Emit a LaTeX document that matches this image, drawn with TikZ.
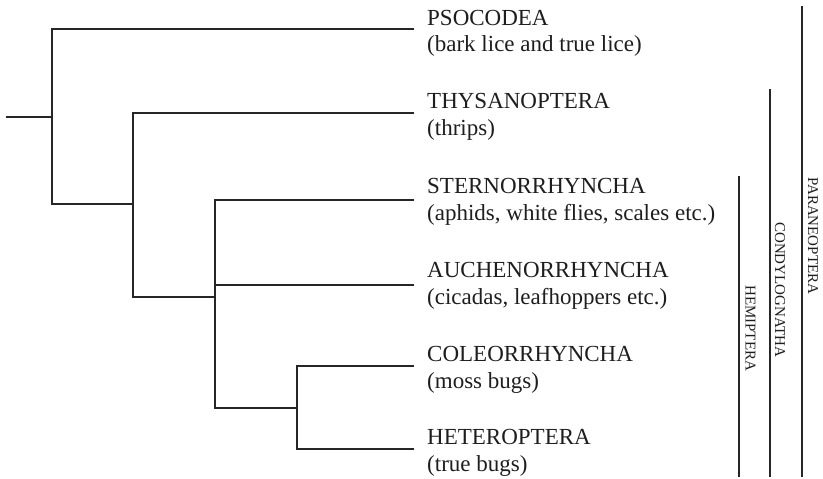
\documentclass[tikz,border=0pt]{standalone}
\usepackage{fontspec}
\setmainfont{Liberation Serif}
\definecolor{ink}{HTML}{262626}
\definecolor{txt}{HTML}{1E1E1E}
\begin{document}
\begin{tikzpicture}[x=1pt,y=-1pt,
  branch/.style={draw=ink,line width=1.7pt},
  taxon/.style={inner sep=0pt,anchor=base west,text=txt,font=\fontsize{23}{27}\selectfont},
  clade/.style={inner sep=0pt,anchor=base west,rotate=-90,text=txt,font=\fontsize{15}{18}\selectfont}]
\useasboundingbox (0,0) rectangle (823,479);
% tree coordinates
\coordinate (r0) at (5.5,117);
\coordinate (j1) at (52,117);
\coordinate (j2) at (133,204);
\coordinate (j3) at (215,297);
\coordinate (j4) at (297,408);
\coordinate (l1) at (414,29);
\coordinate (l2) at (414,113);
\coordinate (l3) at (414,200);
\coordinate (l4) at (414,285);
\coordinate (l5) at (414,366);
\coordinate (l6) at (414,449);
% tree
\draw[branch] (r0) -- (j1);
\draw[branch] (l1) -| (j1) |- (j2);
\draw[branch] (l2) -| (j2) |- (j3);
\draw[branch] (l3) -| (j3) |- (j4);
\draw[branch] (l4) -- (l4 -| j3);
\draw[branch] (l5) -| (j4) |- (l6);
% taxon labels
\node[taxon] (t1) at (427,25) {PSOCODEA};
\node[taxon] (d1) at (427,52) {(bark lice and true lice)};
\node[taxon] (t2) at (427,108) {THYSANOPTERA};
\node[taxon] (d2) at (427,135) {(thrips)};
\node[taxon] (t3) at (427,193) {STERNORRHYNCHA};
\node[taxon] (d3) at (427,220) {(aphids, white flies, scales etc.)};
\node[taxon] (t4) at (427,277) {AUCHENORRHYNCHA};
\node[taxon] (d4) at (427,304) {(cicadas, leafhoppers etc.)};
\node[taxon] (t5) at (427,361) {COLEORRHYNCHA};
\node[taxon] (d5) at (427,388) {(moss bugs)};
\node[taxon] (t6) at (427,444) {HETEROPTERA};
\node[taxon] (d6) at (427,471) {(true bugs)};
% clade bars
\coordinate (hT) at (739,176);
\coordinate (hB) at (739,477);
\coordinate (cT) at (770,89);
\coordinate (cB) at (770,477);
\coordinate (pT) at (802,6);
\coordinate (pB) at (802,477);
\draw[branch] (hT) -- (hB);
\draw[branch] (cT) -- (cB);
\draw[branch] (pT) -- (pB);
\node[clade] (hem) at (745.5,285) {HEMIPTERA};
\node[clade] (con) at (775,222) {CONDYLOGNATHA};
\node[clade] (par) at (808,177) {PARANEOPTERA};
\end{tikzpicture}
\end{document}
